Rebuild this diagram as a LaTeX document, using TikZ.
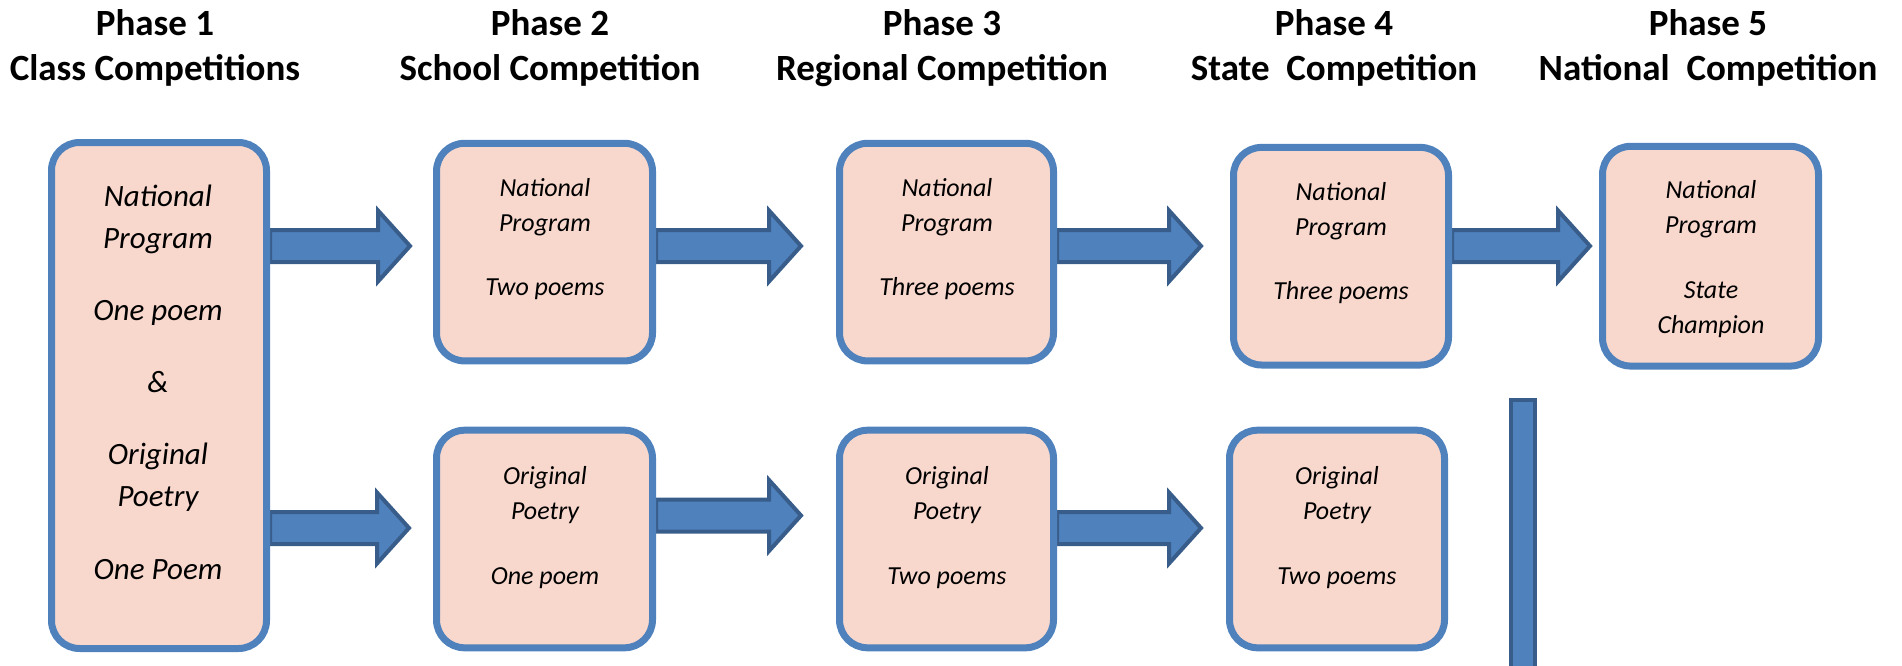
\documentclass[tikz,border=0pt]{standalone}
\usepackage{fontspec}
\setmainfont{Carlito}
\usetikzlibrary{calc}
\definecolor{boxblue}{HTML}{4F81BD}
\definecolor{arrowline}{HTML}{385D8A}
\definecolor{boxpink}{HTML}{F8D8CD}
\pgfdeclarelayer{bg}
\pgfsetlayers{bg,main}
\newcommand\fatarrow[2]{%
  \draw[barrow] ($(#1.east |- #2)+(0,-16)$) -- ($(#2)+(-32,-16)$) -- ($(#2)+(-32,-35.5)$) -- (#2)
    -- ($(#2)+(-32,35.5)$) -- ($(#2)+(-32,16)$) -- ($(#1.east |- #2)+(0,16)$) -- cycle;}
\begin{document}
\begin{tikzpicture}[x=1pt,y=-1pt,
  stagebox/.style={draw=boxblue, line width=7pt, fill=boxpink, rounded corners=28pt,
    inner sep=0pt, minimum width=216pt, minimum height=217.6pt},
  bodytext/.style={font=\itshape\fontsize{26}{35}\selectfont, align=center, anchor=base, inner sep=0pt},
  bigtext/.style={font=\itshape\fontsize{31}{42}\selectfont, align=center, anchor=base, inner sep=0pt},
  heading/.style={font=\bfseries\fontsize{37}{45}\selectfont, align=center, anchor=base, inner sep=0pt},
  barrow/.style={fill=boxblue, draw=arrowline, line width=4pt, line join=miter},
  barbox/.style={rectangle, fill=boxblue, draw=arrowline, line width=4pt, inner sep=0pt},
]
\useasboundingbox (0,0) rectangle (1902,666);

% headings (anchor = baseline of last line)
\node[heading] (h1) at (155,81) {Phase 1\\Class Competitions};
\node[heading] (h2) at (550,81) {Phase 2\\School Competition};
\node[heading] (h3) at (942,81) {Phase 3\\Regional Competition};
\node[heading] (h4) at (1334,81) {Phase 4\\State\ \ Competition};
\node[heading] (h5) at (1708,81) {Phase 5\\National\ \ Competition};

% boxes
\node[stagebox, minimum width=215pt, minimum height=506pt] (cls) at (159,395.5) {};
\node[stagebox] (np2) at (544.5,252.1) {};
\node[stagebox] (op2) at (544.5,539) {};
\node[stagebox, minimum width=214pt] (np3) at (946.5,252.1) {};
\node[stagebox, minimum width=214pt] (op3) at (946.5,539) {};
\node[stagebox, minimum width=215pt] (np4) at (1341,256.2) {};
\node[stagebox, minimum width=215pt] (op4) at (1337,539) {};
\node[stagebox, minimum height=219.7pt] (np5) at (1710.5,256.2) {};

% texts (anchor = baseline of last line)
\node[bigtext] (t1) at (158,579) {National\\Program\\[30.7pt]One poem\\[29.7pt]\&\\[29.6pt]Original\\Poetry\\[30.8pt]One Poem};
\node[bodytext] (t2a) at (545,295) {National\\Program\\[28.4pt]Two poems};
\node[bodytext] (t2b) at (545,584) {Original\\Poetry\\[30pt]One poem};
\node[bodytext] (t3a) at (947,295) {National\\Program\\[28.4pt]Three poems};
\node[bodytext] (t3b) at (947,584) {Original\\Poetry\\[30pt]Two poems};
\node[bodytext] (t4a) at (1341,299) {National\\Program\\[28.4pt]Three poems};
\node[bodytext] (t4b) at (1337,584) {Original\\Poetry\\[30pt]Two poems};
\node[bodytext] (t5) at (1711,333) {National\\Program\\[30pt]State\\Champion};

% arrow tips
\coordinate (a1) at (410,246);
\coordinate (a2) at (801,246);
\coordinate (a3) at (1201,246);
\coordinate (a4) at (1590,246);
\coordinate (b1) at (409,528);
\coordinate (b2) at (801,515.5);
\coordinate (b3) at (1201,528);

\begin{pgfonlayer}{bg}
  \fatarrow{cls}{a1}
  \fatarrow{np2}{a2}
  \fatarrow{np3}{a3}
  \fatarrow{np4}{a4}
  \fatarrow{cls}{b1}
  \fatarrow{op2}{b2}
  \fatarrow{op3}{b3}
\end{pgfonlayer}

% vertical bar
\node[barbox, minimum width=24pt, minimum height=280pt] (bar) at (1523,540) {};
\end{tikzpicture}
\end{document}
